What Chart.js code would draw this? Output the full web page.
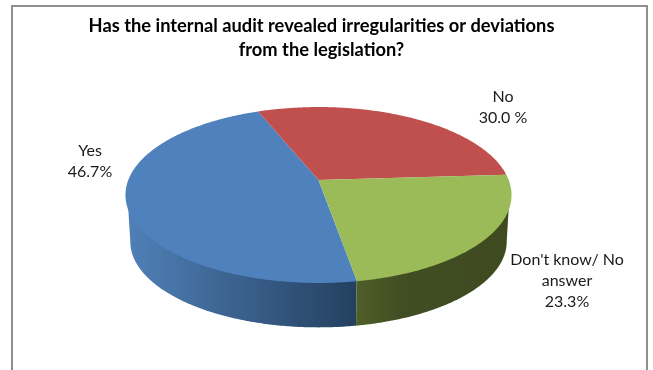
<!DOCTYPE html>
<html>
<head>
<meta charset="utf-8">
<style>
  html, body { margin: 0; background: #fff; overflow: hidden; }
  #frame { position: absolute; left: 11px; top: 5px; width: 633px; height: 365px; border: 2px solid #8f8f8f; border-bottom: 0; }
  #wrap { position: absolute; left: 0; top: 0; width: 643px; height: 370px; }
</style>
</head>
<body>
<div id="frame"></div>
<div id="wrap"><canvas id="chart"></canvas></div>
<script src="https://cdn.jsdelivr.net/npm/chart.js@4"></script>
<script>
const titleLines = ["Has the internal audit revealed irregularities or deviations", "from the legislation?"]
const categories = ["Yes", "No", "Don't know/ No answer"]
const shares = [46.7, 30.0, 23.3]
const sliceColors = ["#4f81bd", "#c0504d", "#9bbb59"]
const wallStops = [
  [[0, "#5080b8"], [1, "#24405f"]],
  [[0, "#7f3230"], [1, "#7f3230"]],
  [[0, "#4f5f29"], [0.3, "#414d22"], [1, "#3f4a21"]],
]
const pieLabels = [
  { lines: ["Yes", "46.7%"], x: 90, y: 151 },
  { lines: ["No", "30.0 %"], x: 503, y: 97 },
  { lines: ["Don't know/ No", "answer", "23.3%"], x: 567, y: 260 },
]

// Tilted disc: unit circle seen through a projective map, so the hub sits
// above the middle of the outline like a perspective pie.
const disc = { x: 318.5, y: 180, a: 190.2, b: 85.4, k: -0.1705 }
const floor = { x: 318.5, y: 227, scale: 0.975 }

function project(angle, base, scale) {
  const u = Math.cos(angle)
  const v = Math.sin(angle)
  const w = 1 + disc.k * v
  return [base.x + (scale * disc.a * u) / w, base.y + (scale * disc.b * v) / w]
}

function rim(start, end, base, scale) {
  const steps = Math.max(2, Math.ceil(Math.abs(end - start) / 0.01))
  const pts = []
  for (let i = 0; i <= steps; i++) {
    pts.push(project(start + ((end - start) * i) / steps, base, scale))
  }
  return pts
}

function trace(ctx, pts) {
  pts.forEach((p) => ctx.lineTo(p[0], p[1]))
}

const pie3d = {
  id: "pie3d",
  beforeDatasetsDraw(chart) {
    const { ctx } = chart
    const arcs = chart.getDatasetMeta(0).data
    // front of the wall runs between the two silhouette tangents
    const tangent = Math.asin(-disc.k)
    ctx.save()

    arcs.forEach((arc, i) => {
      const shift = arc.endAngle > 2 * Math.PI ? 2 * Math.PI : 0
      const from = Math.max(arc.startAngle - shift, tangent)
      const to = Math.min(arc.endAngle - shift, Math.PI - tangent)
      if (to <= from) return
      // tuck the wall slightly under the top face so no seam shows
      const top = rim(from, to, disc, 0.99)
      const bottom = rim(from, to, floor, floor.scale).reverse()
      const xs = top.concat(bottom).map((p) => p[0])
      const grad = ctx.createLinearGradient(Math.min(...xs), 0, Math.max(...xs), 0)
      wallStops[i].forEach((s) => grad.addColorStop(s[0], s[1]))
      ctx.fillStyle = grad
      ctx.beginPath()
      trace(ctx, top.concat(bottom))
      ctx.closePath()
      ctx.fill()
    })

    arcs.forEach((arc, i) => {
      ctx.fillStyle = sliceColors[i]
      ctx.beginPath()
      ctx.moveTo(disc.x, disc.y)
      trace(ctx, rim(arc.startAngle, arc.endAngle, disc, 1))
      ctx.closePath()
      ctx.fill()
    })

    ctx.restore()
    return false
  },
  afterDraw(chart) {
    const { ctx } = chart
    ctx.save()
    ctx.fillStyle = "#1a1a1a"
    ctx.font = '16px Lato, "Noto Sans", sans-serif'
    ctx.textAlign = "center"
    ctx.textBaseline = "middle"
    pieLabels.forEach((label) => {
      label.lines.forEach((line, i) => ctx.fillText(line, label.x, label.y + i * 21))
    })
    ctx.restore()
  },
}

new Chart(document.getElementById("chart"), {
  type: "pie",
  plugins: [pie3d],
  data: {
    labels: categories,
    datasets: [{ data: shares, backgroundColor: sliceColors, borderWidth: 0 }],
  },
  options: {
    responsive: true,
    maintainAspectRatio: false,
    animation: false,
    rotation: 170.3,
    layout: { padding: 0 },
    plugins: {
      legend: { display: false },
      tooltip: { enabled: false },
      title: {
        display: true,
        text: titleLines,
        color: "#000",
        font: { family: 'Lato, "Noto Sans", sans-serif', size: 18.3, weight: "bold", lineHeight: 1.3 },
        padding: { top: 14, bottom: 10 },
      },
    },
  },
})
</script>
</body>
</html>
